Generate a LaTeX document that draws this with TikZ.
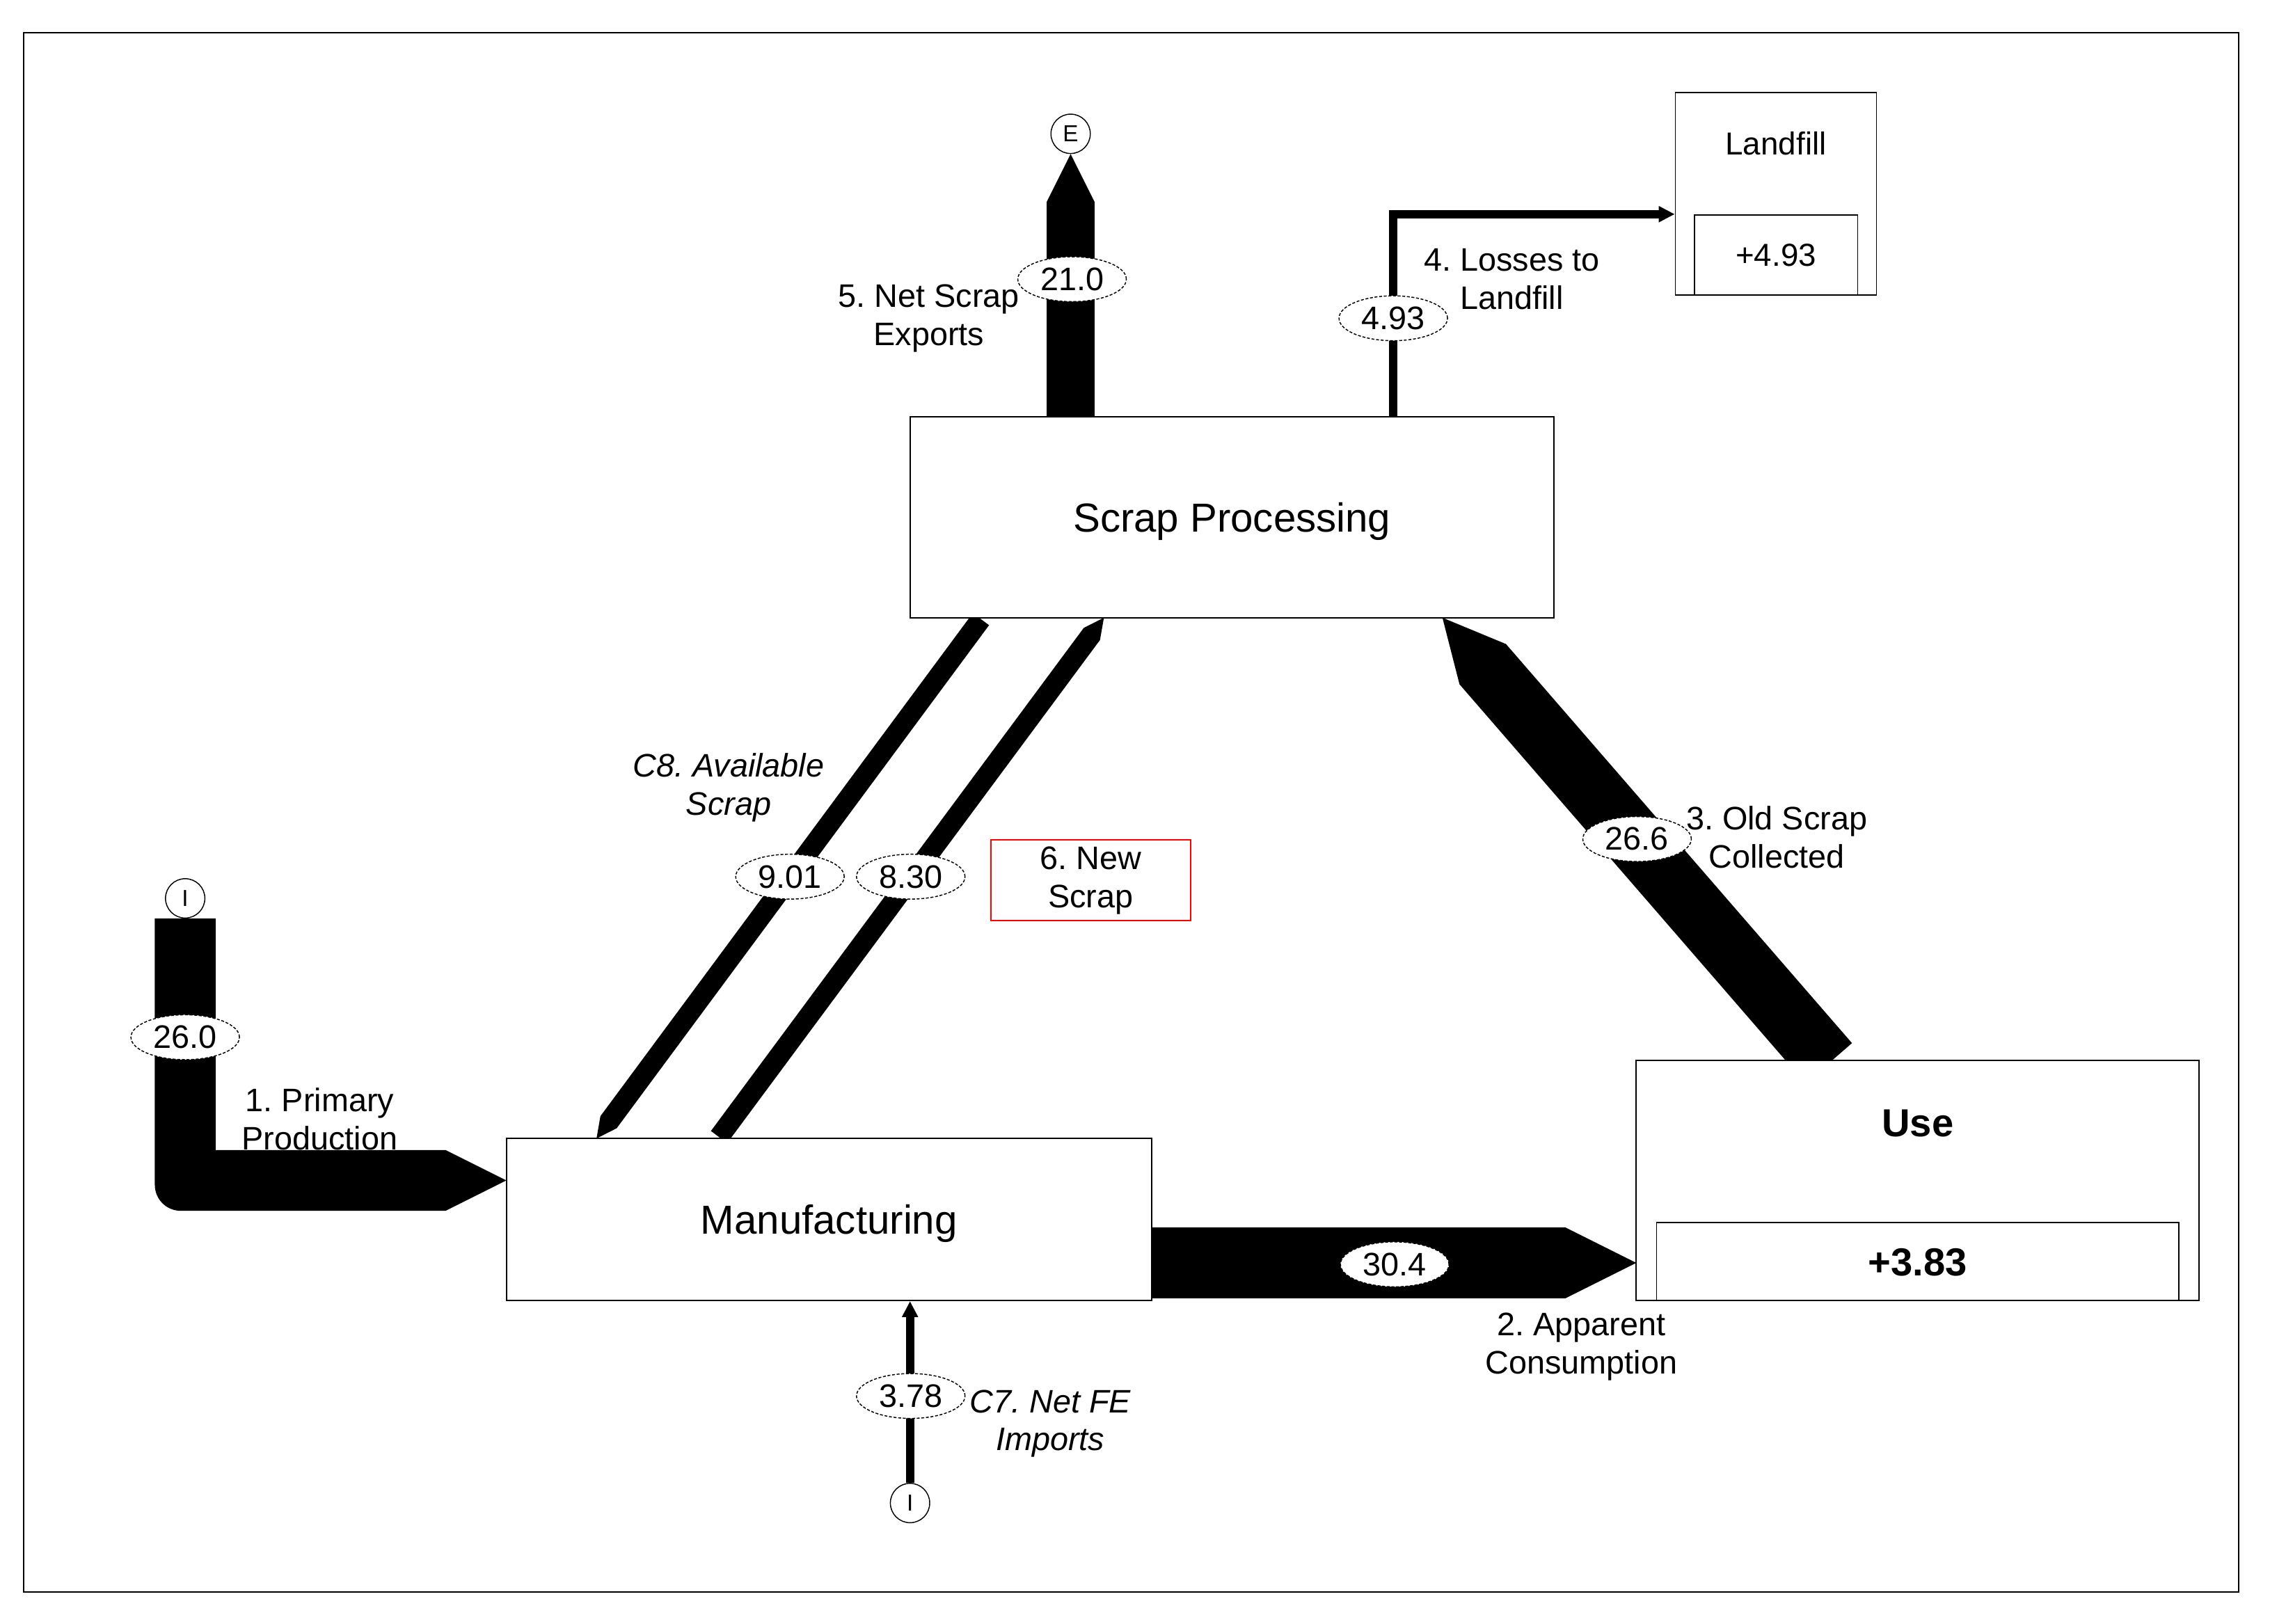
\documentclass[tikz,border=0pt]{standalone}
\usepackage{fontspec}
\setmainfont{Liberation Sans}
\usetikzlibrary{calc,shapes.geometric,arrows.meta,backgrounds}
\frenchspacing
% #1 prefix, #2 start (centre of flat end), #3 tip, #4 width, #5 half width
\newcommand\flowband[5]{%
  \coordinate (#1h) at ($(#3)!#4pt!(#2)$);
  \fill[black] ($(#2)!#5pt!90:(#3)$) -- ($(#1h)!#5pt!90:(#3)$) -- (#3) --
    ($(#1h)!#5pt!-90:(#3)$) -- ($(#2)!#5pt!-90:(#3)$) -- cycle;}
\begin{document}
\frenchspacing
\begin{tikzpicture}[x=1pt,y=-1pt,
  box/.style={rectangle,draw=black,line width=0.9pt,fill=white,inner sep=0pt},
  ttl/.style={font=\fontsize{28}{32}\selectfont,text height=20pt,text depth=0pt},
  val/.style={ellipse,draw=black,fill=white,line width=0.7pt,dash pattern=on 2pt off 1.2pt,
    minimum width=75pt,minimum height=31pt,inner sep=0pt,font=\fontsize{22.5}{26.4}\selectfont},
  lbl/.style={align=center,inner sep=0pt,font=\fontsize{22.5}{26.4}\selectfont},
  ilbl/.style={align=center,inner sep=0pt,font=\fontsize{22.5}{26.4}\selectfont\itshape},
  term/.style={circle,draw=black,fill=white,line width=0.7pt,minimum size=27.2pt,inner sep=0pt,
    font=\fontsize{16}{18}\selectfont},
  thinflow/.style={draw=black,line width=5.6pt,-{Triangle[length=11pt,width=10.5pt]}}]

\useasboundingbox (0,0) rectangle (1569,1122.6);

% ---- boxes
\node[box,ttl,minimum width=445pt,minimum height=139pt] (sp) at (851.5,357.5) {Scrap Processing};
\node[box,ttl,minimum width=446pt,minimum height=112pt] (mfg) at (573,843) {Manufacturing};
\node[box,minimum width=389pt,minimum height=166pt] (use) at (1325.5,816) {};
\node[box,minimum width=361pt,minimum height=54pt,font=\fontsize{27}{31}\selectfont\bfseries,
  text height=19.3pt,text depth=0pt] (usein) at (1325.5,872) {+3.83};
\node[inner sep=0pt,font=\fontsize{27}{31}\selectfont\bfseries,text height=19.3pt,text depth=0pt]
  (usettl) at (1325.5,776) {Use};
\node[box,minimum width=139pt,minimum height=140pt] (lf) at (1227.5,134) {};
\node[box,minimum width=113pt,minimum height=55.5pt,font=\fontsize{22}{26}\selectfont,
  text height=15.8pt,text depth=0pt] (lfin) at (1227.5,176.25) {+4.93};
\node[inner sep=0pt,font=\fontsize{22}{26}\selectfont,text height=15.8pt,text depth=0pt]
  (lfttl) at (1227.5,99) {Landfill};
\node[rectangle,draw=red,line width=0.8pt,minimum width=138pt,minimum height=56pt,align=center,
  inner sep=0pt,font=\fontsize{22.5}{26.4}\selectfont] (ns) at (753.9,608.5) {6. New\\Scrap};

% ---- import / export terminals
\node[term] (E) at (740,92.5) {E};
\node[term] (I1) at (128,621) {I};
\node[term] (I2) at (629,1039) {I};

% ---- thick flows (behind the boxes)
\begin{scope}[on background layer]
\fill[white] (0,0) rectangle (1569,1122.6);
% 1. primary production
\fill[black] (107,635) -- (149,635) -- (149,795) -- (308,795) -- (350,816) -- (308,837) -- (125,837)
  .. controls (115,837) and (107,829) .. (107,819) -- cycle;
% 5. net scrap exports
\coordinate (exS) at (E |- sp.north);
\flowband{ex}{exS}{E.south}{33}{16.5}
% 2. apparent consumption
\coordinate (acS) at (796,873);
\coordinate (acT) at (1131,873);
\flowband{ac}{acS}{acT}{49}{24.5}
% 3. old scrap collected
\coordinate (osS) at (1264,735);
\coordinate (osT) at (997,427);
\flowband{os}{osS}{osT}{42.5}{21.25}
% C8. available scrap
\coordinate (avS) at (678,428);
\coordinate (avT) at (412.3,787);
\flowband{av}{avS}{avT}{14}{7}
% 6. new scrap
\coordinate (nwS) at (497,786);
\coordinate (nwT) at (763,427);
\flowband{nw}{nwS}{nwT}{14}{7}
\end{scope}

% ---- thin flows
\coordinate (lsS) at (963,288);
\coordinate (lsE) at (lf.west |- lfin.north);
\draw[thinflow] (lsS) |- (lsE);
\draw[thinflow] (I2.north) -- (I2.north |- mfg.south);

% ---- values
\node[val] (v1) at (128,717) {26.0};
\node[val] (v5) at (741,193) {21.0};
\node[val] (v4) at (963,220) {4.93};
\node[val] (v8) at (546,606) {9.01};
\node[val] (v6) at (629.5,606) {8.30};
\node[val] (v3) at (1131.5,580) {26.6};
\node[val] (v2) at (964,874) {30.4};
\node[val] (v7) at (629.5,965) {3.78};

% ---- labels
\node[lbl] (l1) at (221,773.6) {1. Primary\\Production};
\node[lbl] (l2) at (1093,930.9) {2. Apparent\\Consumption};
\node[lbl] (l3) at (1228,578.7) {3. Old Scrap\\Collected};
\node[lbl] (l4) at (1045,193.1) {4. Losses to\\Landfill};
\node[lbl] (l5) at (642,220) {5. Net Scrap\\Exports};
\node[ilbl] (l7) at (726,984.1) {C7. Net FE\\Imports};
\node[ilbl] (l8) at (503.6,544.6) {C8. Available\\Scrap};

% ---- frame
\draw[line width=1pt] (16.4,22.6) rectangle (1547.4,1100.5);
\end{tikzpicture}
\end{document}
